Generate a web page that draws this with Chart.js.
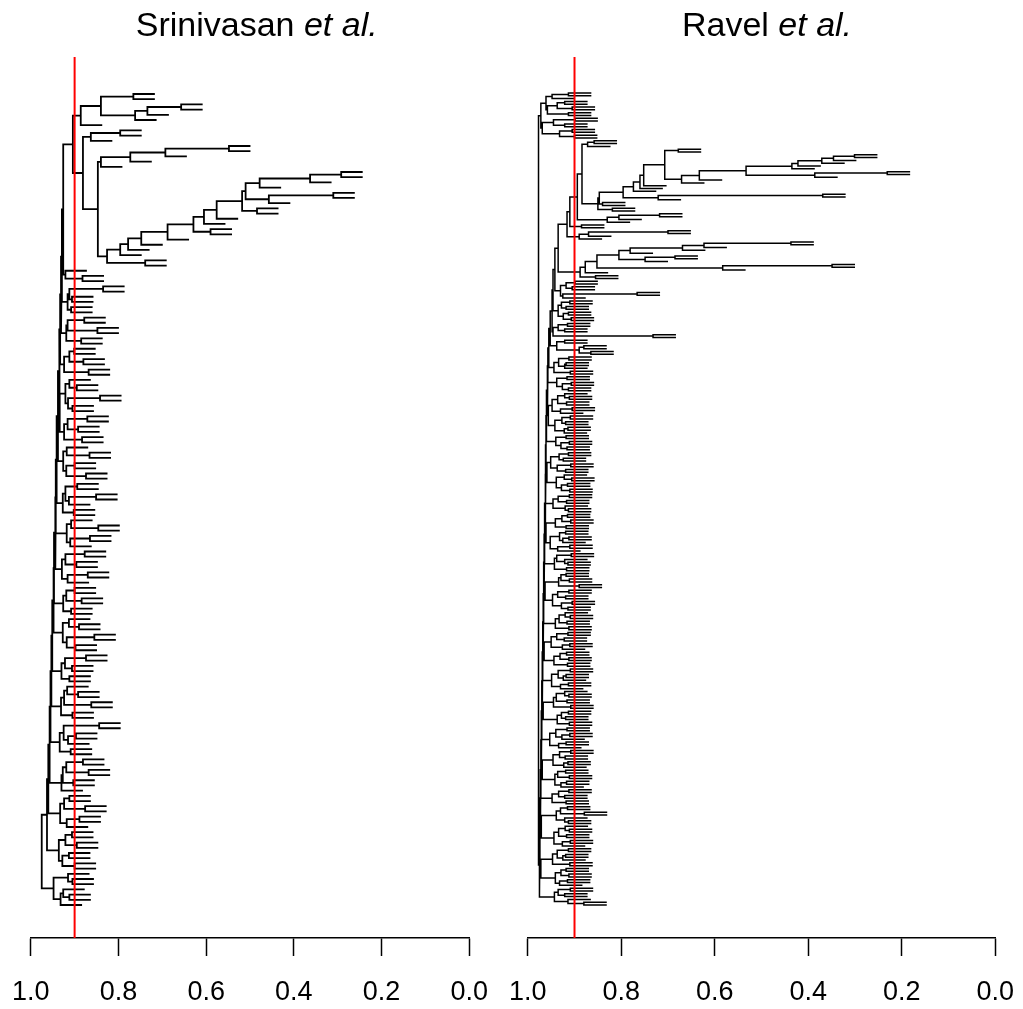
<!DOCTYPE html>
<html><head><meta charset="utf-8">
<script src="https://cdn.jsdelivr.net/npm/chart.js@4.4.0/dist/chart.umd.min.js"></script>
<style>
html,body{margin:0;padding:0;background:#fff;width:1023px;height:1009px;overflow:hidden;}
#wrap{position:relative;width:1023px;height:1009px;background:#fff;overflow:hidden;}
canvas{position:absolute;top:0;}
.title{position:absolute;top:7px;font-family:"Liberation Sans",Arial,Helvetica,sans-serif;font-size:34px;line-height:34px;white-space:nowrap;transform:translateX(-50%);color:#000;}
</style></head><body>
<div id="wrap">
<canvas id="c1" width="500" height="1009" style="left:0"></canvas>
<canvas id="c2" width="523" height="1009" style="left:500px"></canvas>
<div class="title" style="left:256.7px">Srinivasan <i>et al.</i></div>
<div class="title" style="left:767px">Ravel <i>et al.</i></div>
</div>
<script>
// ---- data: merge heights between consecutive leaves (leaf order top -> bottom) ----
const xTickValues = [1.0, 0.8, 0.6, 0.4, 0.2, 0.0];
const cutHeight = 0.9;
const leafHang = 0.049;

// Srinivasan et al.
const srinivasanTopClade = [
  0.766, 0.840, 0.657, 0.734, 0.762, 0.886, 0.904, 0.796, 0.863, 0.881,
  0.548, 0.693, 0.773, 0.840, 0.847, 0.292, 0.363, 0.478, 0.510, 0.310,
  0.457, 0.518, 0.484, 0.576, 0.605, 0.629, 0.590, 0.688, 0.748, 0.778,
  0.796, 0.826, 0.739
];
const srinivasanLower = [
  0.926, 0.921, 0.882,
  0.929, 0.835, 0.912, 0.906, 0.916, 0.908,
  0.931, 0.878, 0.916, 0.848, 0.919, 0.885,
  0.933, 0.901, 0.912, 0.880, 0.924, 0.868,
  0.935, 0.912, 0.895, 0.921, 0.842, 0.915, 0.905,
  0.934, 0.871, 0.916, 0.892, 0.924, 0.883,
  0.938, 0.918, 0.866, 0.926, 0.900, 0.919, 0.874,
  0.941, 0.894, 0.921, 0.851, 0.913, 0.927, 0.902,
  0.943, 0.908, 0.846, 0.918, 0.865, 0.910,
  0.944, 0.877, 0.921, 0.896, 0.929, 0.870, 0.916,
  0.947, 0.900, 0.919, 0.884, 0.926, 0.908,
  0.948, 0.913, 0.890, 0.927, 0.855, 0.918, 0.898,
  0.951, 0.874, 0.922, 0.906, 0.930, 0.912,
  0.953, 0.917, 0.892, 0.924, 0.862, 0.931, 0.905,
  0.955, 0.844, 0.925, 0.897, 0.915, 0.934, 0.909,
  0.957, 0.881, 0.919, 0.868, 0.927, 0.903, 0.930,
  0.960, 0.912, 0.924, 0.876, 0.933, 0.889, 0.918,
  0.963, 0.906, 0.921, 0.895, 0.936, 0.913, 0.928, 0.900,
  0.975, 0.915, 0.905, 0.948, 0.926, 0.912, 0.932
];

// Ravel et al.
const ravelTopGroup = [
  0.913, 0.948, 0.961, 0.921, 0.937, 0.905, 0.958, 0.913, 0.972, 0.899,
  0.945, 0.921, 0.969, 0.905, 0.932, 0.900
];
const ravelLongClade = [
  0.977,
  0.858, 0.872, 0.884, 0.678, 0.707, 0.301, 0.346, 0.371, 0.422, 0.435,
  0.533, 0.231, 0.386, 0.633, 0.671, 0.752, 0.760, 0.774, 0.796, 0.369,
  0.721, 0.847, 0.840, 0.850, 0.819, 0.894, 0.718, 0.805, 0.830,
  0.910, 0.885, 0.916, 0.700, 0.870, 0.890
];
const ravelMidClades = [
  0.935, 0.437, 0.623, 0.669, 0.781, 0.805, 0.685, 0.749, 0.852, 0.349, 0.583, 0.877, 0.888, 0.855,
  0.942, 0.899, 0.918, 0.905, 0.930, 0.766, 0.925,
  0.946, 0.910, 0.928, 0.918, 0.935, 0.913, 0.924, 0.907,
  0.948, 0.915, 0.935, 0.921, 0.946, 0.732,
  0.952, 0.921, 0.938, 0.880, 0.890, 0.865
];
const ravelLowerGroups = [
  0.955, 0.912, 0.934, 0.918, 0.921, 0.944, 0.909,
  0.957, 0.916, 0.938, 0.907, 0.926, 0.913,
  0.958, 0.921, 0.911, 0.936, 0.917, 0.948, 0.905, 0.930,
  0.956, 0.909, 0.927, 0.919, 0.942, 0.914, 0.922,
  0.960, 0.918, 0.940, 0.911, 0.929, 0.916,
  0.961, 0.913, 0.933, 0.924, 0.951, 0.908, 0.937, 0.919,
  0.959, 0.922, 0.906, 0.939, 0.915, 0.928, 0.910,
  0.962, 0.911, 0.935, 0.917, 0.946, 0.920, 0.913,
  0.963, 0.915, 0.927, 0.908, 0.941, 0.918,
  0.961, 0.919, 0.932, 0.912, 0.925, 0.952, 0.910, 0.936,
  0.964, 0.907, 0.938, 0.921, 0.914, 0.943, 0.917,
  0.965, 0.918, 0.929, 0.911, 0.934, 0.890,
  0.963, 0.912, 0.936, 0.919, 0.947, 0.905, 0.928, 0.914,
  0.966, 0.920, 0.909, 0.933, 0.916, 0.941, 0.912,
  0.967, 0.914, 0.938, 0.922, 0.950, 0.910, 0.926,
  0.965, 0.917, 0.931, 0.912, 0.944, 0.915,
  0.968, 0.909, 0.935, 0.918, 0.924, 0.949, 0.913, 0.930,
  0.969, 0.921, 0.912, 0.939, 0.916, 0.945, 0.908,
  0.967, 0.913, 0.928, 0.919, 0.937, 0.911,
  0.970, 0.916, 0.940, 0.910, 0.927, 0.953, 0.918, 0.934,
  0.971, 0.908, 0.932, 0.920, 0.946, 0.914, 0.923,
  0.969, 0.919, 0.936, 0.911, 0.942, 0.917, 0.929,
  0.972, 0.912, 0.934, 0.921, 0.948, 0.918,
  0.973, 0.915, 0.930, 0.879, 0.939, 0.921, 0.913,
  0.971, 0.920, 0.911, 0.934, 0.917, 0.944, 0.909, 0.926,
  0.974, 0.913, 0.937, 0.919, 0.925, 0.947, 0.910,
  0.972, 0.918, 0.929, 0.912, 0.941, 0.915, 0.932,
  0.975, 0.909, 0.935, 0.921, 0.943, 0.914, 0.880
];

const srinivasanGaps = srinivasanTopClade.concat(srinivasanLower);
const ravelGaps = ravelTopGroup.concat(ravelLongClade, ravelMidClades, ravelLowerGroups);

// ---- build dendrogram segments from the gap heights ----
function buildSegments(gaps) {
  const n = gaps.length + 1;
  const pts = [];
  function node(i, j) {
    if (i === j) return { leaf: true, y: i + 1 };
    let k = i, m = -Infinity;
    for (let t = i; t < j; t++) { if (gaps[t] >= m) { m = gaps[t]; k = t; } }
    const a = node(i, k), b = node(k + 1, j);
    const endA = a.leaf ? m - leafHang : a.h;
    const endB = b.leaf ? m - leafHang : b.h;
    pts.push({ x: endA, y: a.y }, { x: m, y: a.y }, { x: m, y: b.y }, { x: endB, y: b.y }, { x: null, y: null });
    return { leaf: false, h: m, y: (a.y + b.y) / 2 };
  }
  node(0, n - 1);
  return { pts, n };
}

function chartConfig(pts, n, g, top, bottom, yMin, yMax) {
  return {
    type: 'scatter',
    data: {
      datasets: [
        { data: [{ x: cutHeight, y: yMin }, { x: cutHeight, y: yMax }], showLine: true,
          borderColor: '#ff0000', borderWidth: 2, pointRadius: 0, order: 0 },
        { data: pts, showLine: true, spanGaps: false, borderColor: '#000000',
          borderWidth: g.lw, pointRadius: 0, tension: 0, order: 1 }
      ]
    },
    options: {
      responsive: false, animation: false, events: [],
      layout: { padding: { left: 0, right: 0, top: top, bottom: 0 } },
      plugins: { legend: { display: false }, tooltip: { enabled: false } },
      scales: {
        x: {
          type: 'linear', min: 0, max: 1, reverse: true,
          afterFit: (sc) => { sc.height = 1009 - bottom; },
          afterBuildTicks: (sc) => { sc.ticks = xTickValues.map(v => ({ value: v })); },
          ticks: {
            callback: (v) => Number(v).toFixed(1), autoSkip: false, maxRotation: 0,
            font: { family: '"Liberation Sans", Arial, Helvetica, sans-serif', size: 27 },
            color: '#000', padding: 20
          },
          grid: { display: true, drawOnChartArea: false, drawTicks: true, tickLength: 18,
                  tickWidth: 1.5, tickColor: '#000', color: '#000' },
          border: { display: true, color: '#000', width: 1.5 }
        },
        y: { type: 'linear', display: false, reverse: true, min: yMin, max: yMax }
      }
    }
  };
}

function makePanel(id, gaps, g) {
  const { pts, n } = buildSegments(gaps);
  const top = 57, bottom = 938;
  const s = (g.lastLeaf - g.firstLeaf) / (n - 1);
  const yMin = 1 - (g.firstLeaf - top) / s;
  const yMax = n + (bottom - g.lastLeaf) / s;
  const canvas = document.getElementById(id);
  let chart = new Chart(canvas, chartConfig(pts, n, g, top, bottom, yMin, yMax));
  // place the canvas so the axis runs exactly from g.left (1.0) to g.right (0.0)
  for (let iter = 0; iter < 3; iter++) {
    const w = canvas.width;
    const pl = chart.chartArea.left, pr = w - chart.chartArea.right;
    const newW = Math.round((g.right - g.left) + pl + pr);
    const newLeft = g.left - pl;
    chart.destroy();
    canvas.width = newW; canvas.height = 1009;
    canvas.style.width = newW + 'px'; canvas.style.height = '1009px';
    canvas.style.left = newLeft + 'px';
    chart = new Chart(canvas, chartConfig(pts, n, g, top, bottom, yMin, yMax));
    if (Math.abs(chart.chartArea.right - chart.chartArea.left - (g.right - g.left)) < 0.5) {
      canvas.style.left = (g.left - chart.chartArea.left) + 'px';
      break;
    }
  }
  canvas.style.left = (g.left - chart.chartArea.left) + 'px';
}

makePanel('c1', srinivasanGaps, { left: 31, right: 469, firstLeaf: 94, lastLeaf: 905, lw: 1.8 });
makePanel('c2', ravelGaps, { left: 528, right: 995, firstLeaf: 93, lastLeaf: 905, lw: 1.5 });
</script>
</body></html>
